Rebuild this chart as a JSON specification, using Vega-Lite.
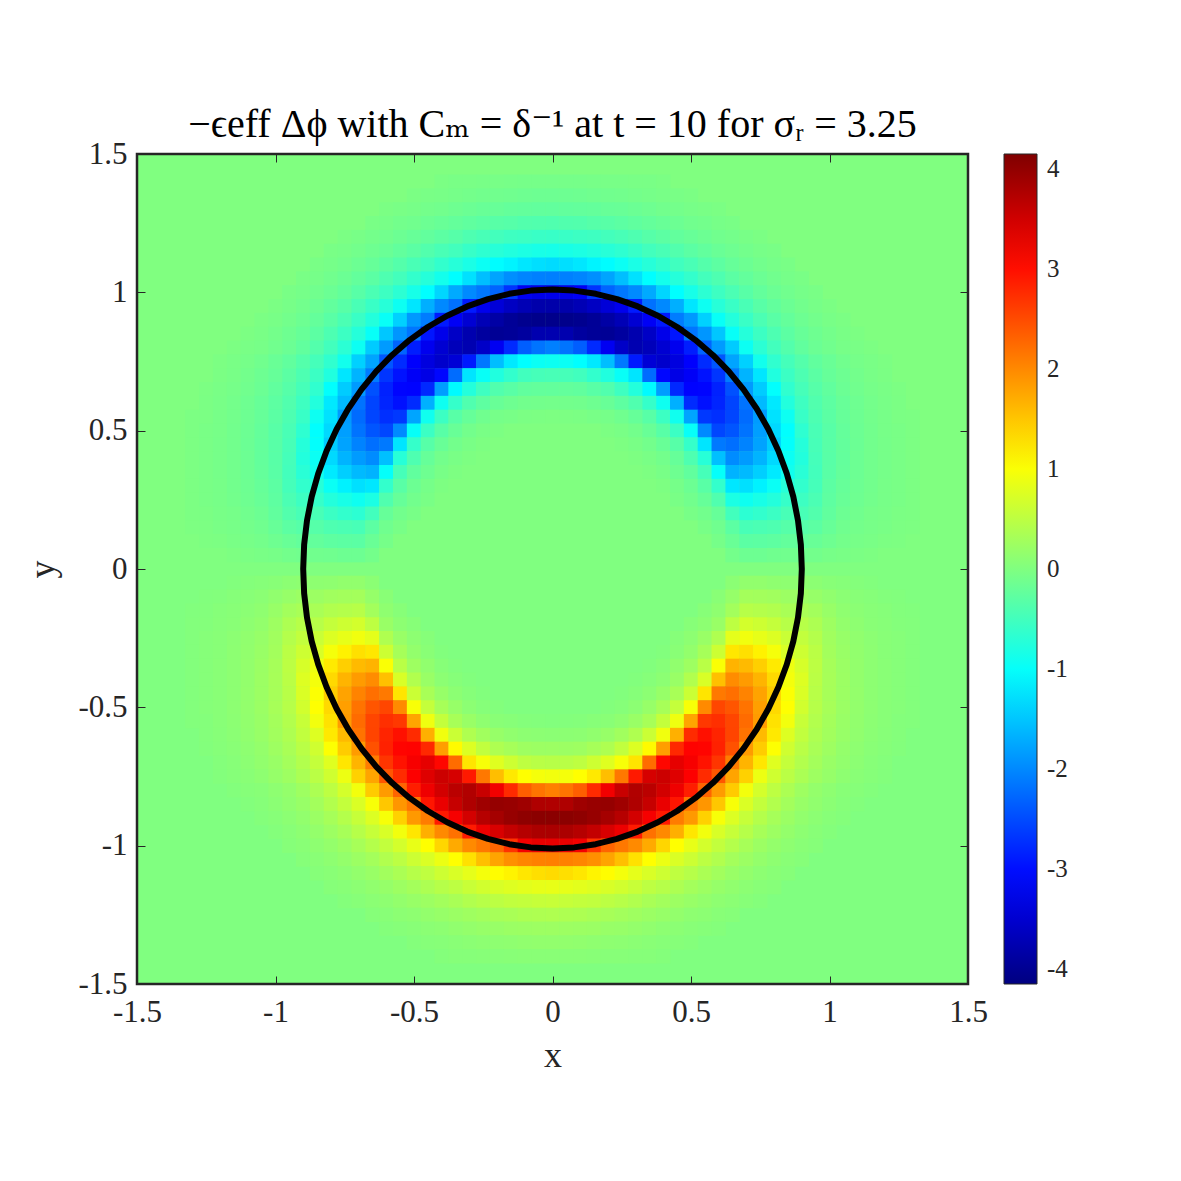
{
"$schema":"https://vega.github.io/schema/vega-lite/v6.json",
"width":831,"height":830,"autosize":"none",
"padding":{"left":137,"top":154,"right":213,"bottom":197},
"background":"white",
"title":{"text":"−ϵeff Δϕ with Cₘ = δ⁻¹ at t = 10 for σᵣ = 3.25","font":"Liberation Serif, DejaVu Serif, serif","fontSize":40,"fontWeight":"normal","color":"#000000","baseline":"alphabetic","offset":-39,"anchor":"middle"},
"datasets":{
"heat":[
{"y":1.4,"x":[-0.4,-0.35,-0.3,-0.25,-0.2,-0.15,-0.1,-0.05,0,0.05,0.1,0.15,0.2,0.25,0.3,0.35,0.4],"v":[-0.04,-0.05,-0.05,-0.06,-0.06,-0.07,-0.08,-0.08,-0.08,-0.08,-0.08,-0.07,-0.06,-0.06,-0.05,-0.05,-0.04]},
{"y":1.35,"x":[-0.5,-0.45,-0.4,-0.35,-0.3,-0.25,-0.2,-0.15,-0.1,-0.05,0,0.05,0.1,0.15,0.2,0.25,0.3,0.35,0.4,0.45,0.5],"v":[-0.04,-0.05,-0.06,-0.08,-0.09,-0.11,-0.12,-0.13,-0.14,-0.15,-0.15,-0.15,-0.14,-0.13,-0.12,-0.11,-0.09,-0.08,-0.06,-0.05,-0.04]},
{"y":1.3,"x":[-0.6,-0.55,-0.5,-0.45,-0.4,-0.35,-0.3,-0.25,-0.2,-0.15,-0.1,-0.05,0,0.05,0.1,0.15,0.2,0.25,0.3,0.35,0.4,0.45,0.5,0.55,0.6],"v":[-0.04,-0.05,-0.07,-0.09,-0.11,-0.14,-0.17,-0.19,-0.2,-0.22,-0.23,-0.24,-0.24,-0.24,-0.23,-0.22,-0.2,-0.19,-0.17,-0.14,-0.11,-0.09,-0.07,-0.05,-0.04]},
{"y":1.25,"x":[-0.65,-0.6,-0.55,-0.5,-0.45,-0.4,-0.35,-0.3,-0.25,-0.2,-0.15,-0.1,-0.05,0,0.05,0.1,0.15,0.2,0.25,0.3,0.35,0.4,0.45,0.5,0.55,0.6,0.65],"v":[-0.05,-0.07,-0.1,-0.12,-0.16,-0.19,-0.22,-0.26,-0.29,-0.32,-0.34,-0.37,-0.38,-0.39,-0.38,-0.37,-0.34,-0.32,-0.29,-0.26,-0.22,-0.19,-0.16,-0.12,-0.1,-0.07,-0.05]},
{"y":1.2,"x":[-0.75,-0.7,-0.65,-0.6,-0.55,-0.5,-0.45,-0.4,-0.35,-0.3,-0.25,-0.2,-0.15,-0.1,-0.05,0,0.05,0.1,0.15,0.2,0.25,0.3,0.35,0.4,0.45,0.5,0.55,0.6,0.65,0.7,0.75],"v":[-0.04,-0.06,-0.09,-0.12,-0.16,-0.2,-0.24,-0.29,-0.34,-0.4,-0.45,-0.49,-0.53,-0.55,-0.57,-0.58,-0.57,-0.55,-0.53,-0.49,-0.45,-0.4,-0.34,-0.29,-0.24,-0.2,-0.16,-0.12,-0.09,-0.06,-0.04]},
{"y":1.15,"x":[-0.8,-0.75,-0.7,-0.65,-0.6,-0.55,-0.5,-0.45,-0.4,-0.35,-0.3,-0.25,-0.2,-0.15,-0.1,-0.05,0,0.05,0.1,0.15,0.2,0.25,0.3,0.35,0.4,0.45,0.5,0.55,0.6,0.65,0.7,0.75,0.8],"v":[-0.05,-0.07,-0.1,-0.14,-0.18,-0.24,-0.3,-0.37,-0.44,-0.5,-0.59,-0.66,-0.72,-0.77,-0.81,-0.84,-0.85,-0.84,-0.81,-0.77,-0.72,-0.66,-0.59,-0.5,-0.44,-0.37,-0.3,-0.24,-0.18,-0.14,-0.1,-0.07,-0.05]},
{"y":1.1,"x":[-0.85,-0.8,-0.75,-0.7,-0.65,-0.6,-0.55,-0.5,-0.45,-0.4,-0.35,-0.3,-0.25,-0.2,-0.15,-0.1,-0.05,0,0.05,0.1,0.15,0.2,0.25,0.3,0.35,0.4,0.45,0.5,0.55,0.6,0.65,0.7,0.75,0.8,0.85],"v":[-0.05,-0.08,-0.11,-0.16,-0.21,-0.28,-0.35,-0.44,-0.52,-0.63,-0.73,-0.83,-0.95,-1.05,-1.13,-1.23,-1.3,-1.33,-1.3,-1.23,-1.13,-1.05,-0.95,-0.83,-0.73,-0.63,-0.52,-0.44,-0.35,-0.28,-0.21,-0.16,-0.11,-0.08,-0.05]},
{"y":1.05,"x":[-0.9,-0.85,-0.8,-0.75,-0.7,-0.65,-0.6,-0.55,-0.5,-0.45,-0.4,-0.35,-0.3,-0.25,-0.2,-0.15,-0.1,-0.05,0,0.05,0.1,0.15,0.2,0.25,0.3,0.35,0.4,0.45,0.5,0.55,0.6,0.65,0.7,0.75,0.8,0.85,0.9],"v":[-0.05,-0.08,-0.12,-0.17,-0.23,-0.3,-0.4,-0.49,-0.62,-0.74,-0.88,-1.04,-1.28,-1.56,-1.78,-1.95,-2.03,-2.07,-2.08,-2.07,-2.03,-1.95,-1.78,-1.56,-1.28,-1.04,-0.88,-0.74,-0.62,-0.49,-0.4,-0.3,-0.23,-0.17,-0.12,-0.08,-0.05]},
{"y":1.0,"x":[-0.95,-0.9,-0.85,-0.8,-0.75,-0.7,-0.65,-0.6,-0.55,-0.5,-0.45,-0.4,-0.35,-0.3,-0.25,-0.2,-0.15,-0.1,-0.05,0,0.05,0.1,0.15,0.2,0.25,0.3,0.35,0.4,0.45,0.5,0.55,0.6,0.65,0.7,0.75,0.8,0.85,0.9,0.95],"v":[-0.05,-0.08,-0.12,-0.17,-0.23,-0.32,-0.43,-0.54,-0.68,-0.85,-1.04,-1.37,-1.73,-1.99,-2.14,-2.3,-2.7,-3.2,-3.3,-3.3,-3.3,-3.2,-2.7,-2.3,-2.14,-1.99,-1.73,-1.37,-1.04,-0.85,-0.68,-0.54,-0.43,-0.32,-0.23,-0.17,-0.12,-0.08,-0.05]},
{"y":0.95,"x":[-1,-0.95,-0.9,-0.85,-0.8,-0.75,-0.7,-0.65,-0.6,-0.55,-0.5,-0.45,-0.4,-0.35,-0.3,-0.25,-0.2,-0.15,-0.1,-0.05,0,0.05,0.1,0.15,0.2,0.25,0.3,0.35,0.4,0.45,0.5,0.55,0.6,0.65,0.7,0.75,0.8,0.85,0.9,0.95,1],"v":[-0.04,-0.07,-0.11,-0.17,-0.24,-0.32,-0.44,-0.57,-0.72,-0.93,-1.24,-1.69,-2,-2.19,-2.9,-3.26,-3.43,-3.6,-3.72,-3.8,-3.81,-3.8,-3.72,-3.6,-3.43,-3.26,-2.9,-2.19,-2,-1.69,-1.24,-0.93,-0.72,-0.57,-0.44,-0.32,-0.24,-0.17,-0.11,-0.07,-0.04]},
{"y":0.9,"x":[-1.05,-1,-0.95,-0.9,-0.85,-0.8,-0.75,-0.7,-0.65,-0.6,-0.55,-0.5,-0.45,-0.4,-0.35,-0.3,-0.25,-0.2,-0.15,-0.1,-0.05,0,0.05,0.1,0.15,0.2,0.25,0.3,0.35,0.4,0.45,0.5,0.55,0.6,0.65,0.7,0.75,0.8,0.85,0.9,0.95,1,1.05],"v":[-0.04,-0.06,-0.1,-0.15,-0.22,-0.31,-0.43,-0.57,-0.75,-0.97,-1.41,-1.87,-2.1,-2.91,-3.19,-3.47,-3.71,-3.85,-3.96,-4.03,-4.06,-4.06,-4.06,-4.03,-3.96,-3.85,-3.71,-3.47,-3.19,-2.91,-2.1,-1.87,-1.41,-0.97,-0.75,-0.57,-0.43,-0.31,-0.22,-0.15,-0.1,-0.06,-0.04]},
{"y":0.85,"x":[-1.1,-1.05,-1,-0.95,-0.9,-0.85,-0.8,-0.75,-0.7,-0.65,-0.6,-0.55,-0.5,-0.45,-0.4,-0.35,-0.3,-0.25,-0.2,-0.15,-0.1,-0.05,0,0.05,0.1,0.15,0.2,0.25,0.3,0.35,0.4,0.45,0.5,0.55,0.6,0.65,0.7,0.75,0.8,0.85,0.9,0.95,1,1.05,1.1],"v":[-0.03,-0.05,-0.09,-0.14,-0.2,-0.29,-0.41,-0.55,-0.74,-0.98,-1.49,-1.89,-2.15,-2.94,-3.28,-3.58,-3.77,-3.9,-3.98,-3.95,-3.9,-3.77,-3.76,-3.77,-3.9,-3.95,-3.98,-3.9,-3.77,-3.58,-3.28,-2.94,-2.15,-1.89,-1.49,-0.98,-0.74,-0.55,-0.41,-0.29,-0.2,-0.14,-0.09,-0.05,-0.03]},
{"y":0.8,"x":[-1.15,-1.1,-1.05,-1,-0.95,-0.9,-0.85,-0.8,-0.75,-0.7,-0.65,-0.6,-0.55,-0.5,-0.45,-0.4,-0.35,-0.3,-0.25,-0.2,-0.15,-0.1,-0.05,0,0.05,0.1,0.15,0.2,0.25,0.3,0.35,0.4,0.45,0.5,0.55,0.6,0.65,0.7,0.75,0.8,0.85,0.9,0.95,1,1.05,1.1,1.15],"v":[-0.03,-0.05,-0.07,-0.12,-0.17,-0.25,-0.36,-0.5,-0.69,-0.94,-1.46,-1.85,-2.3,-2.88,-3.24,-3.48,-3.68,-3.75,-3.56,-3.22,-2.77,-2.35,-2.17,-2.07,-2.17,-2.35,-2.77,-3.22,-3.56,-3.75,-3.68,-3.48,-3.24,-2.88,-2.3,-1.85,-1.46,-0.94,-0.69,-0.5,-0.36,-0.25,-0.17,-0.12,-0.07,-0.05,-0.03]},
{"y":0.75,"x":[-1.2,-1.15,-1.1,-1.05,-1,-0.95,-0.9,-0.85,-0.8,-0.75,-0.7,-0.65,-0.6,-0.55,-0.5,-0.45,-0.4,-0.35,-0.3,-0.25,-0.2,-0.15,-0.1,-0.05,0,0.05,0.1,0.15,0.2,0.25,0.3,0.35,0.4,0.45,0.5,0.55,0.6,0.65,0.7,0.75,0.8,0.85,0.9,0.95,1,1.05,1.1,1.15,1.2],"v":[-0.03,-0.05,-0.08,-0.12,-0.18,-0.25,-0.35,-0.48,-0.65,-0.89,-1.41,-1.78,-2.41,-2.76,-3.13,-3.37,-3.53,-3.45,-2.91,-2.14,-1.57,-1.22,-1.04,-0.96,-0.93,-0.96,-1.04,-1.22,-1.57,-2.14,-2.91,-3.45,-3.53,-3.37,-3.13,-2.76,-2.41,-1.78,-1.41,-0.89,-0.65,-0.48,-0.35,-0.25,-0.18,-0.12,-0.08,-0.05,-0.03]},
{"y":0.7,"x":[-1.2,-1.15,-1.1,-1.05,-1,-0.95,-0.9,-0.85,-0.8,-0.75,-0.7,-0.65,-0.6,-0.55,-0.5,-0.45,-0.4,-0.35,-0.3,-0.25,-0.2,-0.15,-0.1,-0.05,0,0.05,0.1,0.15,0.2,0.25,0.3,0.35,0.4,0.45,0.5,0.55,0.6,0.65,0.7,0.75,0.8,0.85,0.9,0.95,1,1.05,1.1,1.15,1.2],"v":[-0.04,-0.06,-0.1,-0.15,-0.21,-0.3,-0.41,-0.56,-0.78,-1.24,-1.65,-2.1,-2.68,-2.97,-3.18,-3.32,-3.06,-2.23,-1.25,-0.97,-0.78,-0.63,-0.51,-0.47,-0.45,-0.47,-0.51,-0.63,-0.78,-0.97,-1.25,-2.23,-3.06,-3.32,-3.18,-2.97,-2.68,-2.1,-1.65,-1.24,-0.78,-0.56,-0.41,-0.3,-0.21,-0.15,-0.1,-0.06,-0.04]},
{"y":0.65,"x":[-1.25,-1.2,-1.15,-1.1,-1.05,-1,-0.95,-0.9,-0.85,-0.8,-0.75,-0.7,-0.65,-0.6,-0.55,-0.5,-0.45,-0.4,-0.35,-0.3,-0.25,-0.2,-0.15,-0.1,-0.05,0,0.05,0.1,0.15,0.2,0.25,0.3,0.35,0.4,0.45,0.5,0.55,0.6,0.65,0.7,0.75,0.8,0.85,0.9,0.95,1,1.05,1.1,1.15,1.2,1.25],"v":[-0.03,-0.05,-0.08,-0.12,-0.17,-0.25,-0.34,-0.47,-0.65,-1.02,-1.45,-1.85,-2.45,-2.84,-3.08,-3.1,-2.79,-1.83,-1.07,-0.75,-0.53,-0.38,-0.31,-0.25,-0.23,-0.23,-0.23,-0.25,-0.31,-0.38,-0.53,-0.75,-1.07,-1.83,-2.79,-3.1,-3.08,-2.84,-2.45,-1.85,-1.45,-1.02,-0.65,-0.47,-0.34,-0.25,-0.17,-0.12,-0.08,-0.05,-0.03]},
{"y":0.6,"x":[-1.25,-1.2,-1.15,-1.1,-1.05,-1,-0.95,-0.9,-0.85,-0.8,-0.75,-0.7,-0.65,-0.6,-0.55,-0.5,-0.45,-0.4,-0.35,-0.3,-0.25,-0.2,-0.15,-0.1,-0.05,0,0.05,0.1,0.15,0.2,0.25,0.3,0.35,0.4,0.45,0.5,0.55,0.6,0.65,0.7,0.75,0.8,0.85,0.9,0.95,1,1.05,1.1,1.15,1.2,1.25],"v":[-0.04,-0.06,-0.09,-0.14,-0.2,-0.28,-0.38,-0.53,-0.76,-1.22,-1.6,-2.18,-2.56,-2.82,-2.98,-2.76,-1.68,-0.92,-0.61,-0.39,-0.27,-0.19,-0.14,-0.11,-0.1,-0.09,-0.1,-0.11,-0.14,-0.19,-0.27,-0.39,-0.61,-0.92,-1.68,-2.76,-2.98,-2.82,-2.56,-2.18,-1.6,-1.22,-0.76,-0.53,-0.38,-0.28,-0.2,-0.14,-0.09,-0.06,-0.04]},
{"y":0.55,"x":[-1.3,-1.25,-1.2,-1.15,-1.1,-1.05,-1,-0.95,-0.9,-0.85,-0.8,-0.75,-0.7,-0.65,-0.6,-0.55,-0.5,-0.45,-0.4,-0.35,-0.3,-0.25,-0.2,-0.15,-0.1,-0.05,0,0.05,0.1,0.15,0.2,0.25,0.3,0.35,0.4,0.45,0.5,0.55,0.6,0.65,0.7,0.75,0.8,0.85,0.9,0.95,1,1.05,1.1,1.15,1.2,1.25,1.3],"v":[-0.03,-0.04,-0.07,-0.1,-0.15,-0.21,-0.3,-0.41,-0.58,-0.93,-1.27,-1.85,-2.24,-2.55,-2.73,-2.66,-1.77,-0.91,-0.55,-0.32,-0.21,-0.13,-0.08,-0.06,-0.04,-0.03,-0.02,-0.03,-0.04,-0.06,-0.08,-0.13,-0.21,-0.32,-0.55,-0.91,-1.77,-2.66,-2.73,-2.55,-2.24,-1.85,-1.27,-0.93,-0.58,-0.41,-0.3,-0.21,-0.15,-0.1,-0.07,-0.04,-0.03]},
{"y":0.5,"x":[-1.3,-1.25,-1.2,-1.15,-1.1,-1.05,-1,-0.95,-0.9,-0.85,-0.8,-0.75,-0.7,-0.65,-0.6,-0.55,-0.5,-0.45,-0.4,-0.35,-0.3,-0.25,-0.2,-0.15,-0.1,-0.05,0,0.05,0.1,0.15,0.2,0.25,0.3,0.35,0.4,0.45,0.5,0.55,0.6,0.65,0.7,0.75,0.8,0.85,0.9,0.95,1,1.05,1.1,1.15,1.2,1.25,1.3],"v":[-0.03,-0.05,-0.07,-0.11,-0.16,-0.22,-0.32,-0.44,-0.66,-1.03,-1.35,-1.82,-2.18,-2.42,-2.54,-1.99,-0.98,-0.56,-0.32,-0.19,-0.1,-0.05,-0.03,0,0,0,0,0,0,0,-0.03,-0.05,-0.1,-0.19,-0.32,-0.56,-0.98,-1.99,-2.54,-2.42,-2.18,-1.82,-1.35,-1.03,-0.66,-0.44,-0.32,-0.22,-0.16,-0.11,-0.07,-0.05,-0.03]},
{"y":0.45,"x":[-1.3,-1.25,-1.2,-1.15,-1.1,-1.05,-1,-0.95,-0.9,-0.85,-0.8,-0.75,-0.7,-0.65,-0.6,-0.55,-0.5,-0.45,-0.4,-0.35,-0.3,-0.25,-0.2,-0.15,-0.1,-0.05,0,0.05,0.1,0.15,0.2,0.25,0.3,0.35,0.4,0.45,0.5,0.55,0.6,0.65,0.7,0.75,0.8,0.85,0.9,0.95,1,1.05,1.1,1.15,1.2,1.25,1.3],"v":[-0.03,-0.05,-0.08,-0.11,-0.17,-0.23,-0.32,-0.46,-0.74,-1.01,-1.45,-1.79,-2.05,-2.21,-2.13,-1.25,-0.61,-0.33,-0.19,-0.1,-0.05,-0.02,0,0,0,0,0,0,0,0,0,-0.02,-0.05,-0.1,-0.19,-0.33,-0.61,-1.25,-2.13,-2.21,-2.05,-1.79,-1.45,-1.01,-0.74,-0.46,-0.32,-0.23,-0.17,-0.11,-0.08,-0.05,-0.03]},
{"y":0.4,"x":[-1.3,-1.25,-1.2,-1.15,-1.1,-1.05,-1,-0.95,-0.9,-0.85,-0.8,-0.75,-0.7,-0.65,-0.6,-0.55,-0.5,-0.45,-0.4,-0.35,-0.3,-0.25,-0.2,-0.15,-0.1,-0.05,0,0.05,0.1,0.15,0.2,0.25,0.3,0.35,0.4,0.45,0.5,0.55,0.6,0.65,0.7,0.75,0.8,0.85,0.9,0.95,1,1.05,1.1,1.15,1.2,1.25,1.3],"v":[-0.03,-0.05,-0.08,-0.11,-0.16,-0.23,-0.32,-0.48,-0.76,-0.95,-1.35,-1.65,-1.85,-1.97,-1.55,-0.72,-0.4,-0.21,-0.1,-0.05,-0.02,0,0,0,0,0,0,0,0,0,0,0,-0.02,-0.05,-0.1,-0.21,-0.4,-0.72,-1.55,-1.97,-1.85,-1.65,-1.35,-0.95,-0.76,-0.48,-0.32,-0.23,-0.16,-0.11,-0.08,-0.05,-0.03]},
{"y":0.35,"x":[-1.3,-1.25,-1.2,-1.15,-1.1,-1.05,-1,-0.95,-0.9,-0.85,-0.8,-0.75,-0.7,-0.65,-0.6,-0.55,-0.5,-0.45,-0.4,-0.35,-0.3,-0.25,-0.2,-0.15,-0.1,-0.05,0,0.05,0.1,0.15,0.2,0.25,0.3,0.35,0.4,0.45,0.5,0.55,0.6,0.65,0.7,0.75,0.8,0.85,0.9,0.95,1,1.05,1.1,1.15,1.2,1.25,1.3],"v":[-0.03,-0.05,-0.08,-0.11,-0.16,-0.22,-0.31,-0.49,-0.7,-0.9,-1.21,-1.43,-1.6,-1.66,-1,-0.47,-0.25,-0.14,-0.06,-0.02,0,0,0,0,0,0,0,0,0,0,0,0,0,-0.02,-0.06,-0.14,-0.25,-0.47,-1,-1.66,-1.6,-1.43,-1.21,-0.9,-0.7,-0.49,-0.31,-0.22,-0.16,-0.11,-0.08,-0.05,-0.03]},
{"y":0.3,"x":[-1.3,-1.25,-1.2,-1.15,-1.1,-1.05,-1,-0.95,-0.9,-0.85,-0.8,-0.75,-0.7,-0.65,-0.6,-0.55,-0.5,-0.45,-0.4,-0.35,-0.3,-0.25,-0.2,-0.15,-0.1,-0.05,0,0.05,0.1,0.15,0.2,0.25,0.3,0.35,0.4,0.45,0.5,0.55,0.6,0.65,0.7,0.75,0.8,0.85,0.9,0.95,1,1.05,1.1,1.15,1.2,1.25,1.3],"v":[-0.03,-0.05,-0.07,-0.11,-0.15,-0.21,-0.29,-0.48,-0.63,-0.72,-0.96,-1.14,-1.29,-1.23,-0.62,-0.31,-0.16,-0.08,-0.02,0,0,0,0,0,0,0,0,0,0,0,0,0,0,0,-0.02,-0.08,-0.16,-0.31,-0.62,-1.23,-1.29,-1.14,-0.96,-0.72,-0.63,-0.48,-0.29,-0.21,-0.15,-0.11,-0.07,-0.05,-0.03]},
{"y":0.25,"x":[-1.3,-1.25,-1.2,-1.15,-1.1,-1.05,-1,-0.95,-0.9,-0.85,-0.8,-0.75,-0.7,-0.65,-0.6,-0.55,-0.5,-0.45,-0.4,-0.35,-0.3,-0.25,-0.2,-0.15,-0.1,-0.05,0,0.05,0.1,0.15,0.2,0.25,0.3,0.35,0.4,0.45,0.5,0.55,0.6,0.65,0.7,0.75,0.8,0.85,0.9,0.95,1,1.05,1.1,1.15,1.2,1.25,1.3],"v":[-0.03,-0.05,-0.07,-0.1,-0.14,-0.19,-0.27,-0.43,-0.54,-0.6,-0.75,-0.84,-0.92,-0.82,-0.39,-0.21,-0.11,-0.05,0,0,0,0,0,0,0,0,0,0,0,0,0,0,0,0,0,-0.05,-0.11,-0.21,-0.39,-0.82,-0.92,-0.84,-0.75,-0.6,-0.54,-0.43,-0.27,-0.19,-0.14,-0.1,-0.07,-0.05,-0.03]},
{"y":0.2,"x":[-1.3,-1.25,-1.2,-1.15,-1.1,-1.05,-1,-0.95,-0.9,-0.85,-0.8,-0.75,-0.7,-0.65,-0.6,-0.55,-0.5,-0.45,-0.4,-0.35,-0.3,-0.25,-0.2,-0.15,-0.1,-0.05,0,0.05,0.1,0.15,0.2,0.25,0.3,0.35,0.4,0.45,0.5,0.55,0.6,0.65,0.7,0.75,0.8,0.85,0.9,0.95,1,1.05,1.1,1.15,1.2,1.25,1.3],"v":[-0.03,-0.04,-0.06,-0.08,-0.12,-0.16,-0.25,-0.37,-0.45,-0.45,-0.56,-0.63,-0.68,-0.5,-0.21,-0.11,-0.06,0,0,0,0,0,0,0,0,0,0,0,0,0,0,0,0,0,0,0,-0.06,-0.11,-0.21,-0.5,-0.68,-0.63,-0.56,-0.45,-0.45,-0.37,-0.25,-0.16,-0.12,-0.08,-0.06,-0.04,-0.03]},
{"y":0.15,"x":[-1.3,-1.25,-1.2,-1.15,-1.1,-1.05,-1,-0.95,-0.9,-0.85,-0.8,-0.75,-0.7,-0.65,-0.6,-0.55,-0.5,-0.45,-0.4,-0.35,-0.3,-0.25,-0.2,-0.15,-0.1,-0.05,0,0.05,0.1,0.15,0.2,0.25,0.3,0.35,0.4,0.45,0.5,0.55,0.6,0.65,0.7,0.75,0.8,0.85,0.9,0.95,1,1.05,1.1,1.15,1.2,1.25,1.3],"v":[-0.02,-0.03,-0.05,-0.07,-0.09,-0.13,-0.2,-0.29,-0.34,-0.34,-0.4,-0.43,-0.45,-0.29,-0.13,-0.06,0,0,0,0,0,0,0,0,0,0,0,0,0,0,0,0,0,0,0,0,0,-0.06,-0.13,-0.29,-0.45,-0.43,-0.4,-0.34,-0.34,-0.29,-0.2,-0.13,-0.09,-0.07,-0.05,-0.03,-0.02]},
{"y":0.1,"x":[-1.3,-1.25,-1.2,-1.15,-1.1,-1.05,-1,-0.95,-0.9,-0.85,-0.8,-0.75,-0.7,-0.65,-0.6,-0.55,-0.5,-0.45,-0.4,-0.35,-0.3,-0.25,-0.2,-0.15,-0.1,-0.05,0,0.05,0.1,0.15,0.2,0.25,0.3,0.35,0.4,0.45,0.5,0.55,0.6,0.65,0.7,0.75,0.8,0.85,0.9,0.95,1,1.05,1.1,1.15,1.2,1.25,1.3],"v":[0,-0.02,-0.03,-0.05,-0.07,-0.09,-0.14,-0.19,-0.23,-0.23,-0.27,-0.29,-0.3,-0.18,-0.08,0,0,0,0,0,0,0,0,0,0,0,0,0,0,0,0,0,0,0,0,0,0,0,-0.08,-0.18,-0.3,-0.29,-0.27,-0.23,-0.23,-0.19,-0.14,-0.09,-0.07,-0.05,-0.03,-0.02,0]},
{"y":0.05,"x":[-1.3,-1.25,-1.2,-1.15,-1.1,-1.05,-1,-0.95,-0.9,-0.85,-0.8,-0.75,-0.7,-0.65,-0.6,-0.55,-0.5,-0.45,-0.4,-0.35,-0.3,-0.25,-0.2,-0.15,-0.1,-0.05,0,0.05,0.1,0.15,0.2,0.25,0.3,0.35,0.4,0.45,0.5,0.55,0.6,0.65,0.7,0.75,0.8,0.85,0.9,0.95,1,1.05,1.1,1.15,1.2,1.25,1.3],"v":[0,0,0,-0.02,-0.04,-0.05,-0.07,-0.1,-0.12,-0.12,-0.13,-0.15,-0.15,-0.09,0,0,0,0,0,0,0,0,0,0,0,0,0,0,0,0,0,0,0,0,0,0,0,0,0,-0.09,-0.15,-0.15,-0.13,-0.12,-0.12,-0.1,-0.07,-0.05,-0.04,-0.02,0,0,0]},
{"y":-0.05,"x":[-1.3,-1.25,-1.2,-1.15,-1.1,-1.05,-1,-0.95,-0.9,-0.85,-0.8,-0.75,-0.7,-0.65,-0.6,-0.55,-0.5,-0.45,-0.4,-0.35,-0.3,-0.25,-0.2,-0.15,-0.1,-0.05,0,0.05,0.1,0.15,0.2,0.25,0.3,0.35,0.4,0.45,0.5,0.55,0.6,0.65,0.7,0.75,0.8,0.85,0.9,0.95,1,1.05,1.1,1.15,1.2,1.25,1.3],"v":[0,0,0,0.02,0.04,0.05,0.07,0.1,0.12,0.12,0.13,0.15,0.15,0.09,0,0,0,0,0,0,0,0,0,0,0,0,0,0,0,0,0,0,0,0,0,0,0,0,0,0.09,0.15,0.15,0.13,0.12,0.12,0.1,0.07,0.05,0.04,0.02,0,0,0]},
{"y":-0.1,"x":[-1.3,-1.25,-1.2,-1.15,-1.1,-1.05,-1,-0.95,-0.9,-0.85,-0.8,-0.75,-0.7,-0.65,-0.6,-0.55,-0.5,-0.45,-0.4,-0.35,-0.3,-0.25,-0.2,-0.15,-0.1,-0.05,0,0.05,0.1,0.15,0.2,0.25,0.3,0.35,0.4,0.45,0.5,0.55,0.6,0.65,0.7,0.75,0.8,0.85,0.9,0.95,1,1.05,1.1,1.15,1.2,1.25,1.3],"v":[0,0.02,0.03,0.05,0.07,0.09,0.14,0.19,0.23,0.23,0.27,0.29,0.3,0.18,0.08,0,0,0,0,0,0,0,0,0,0,0,0,0,0,0,0,0,0,0,0,0,0,0,0.08,0.18,0.3,0.29,0.27,0.23,0.23,0.19,0.14,0.09,0.07,0.05,0.03,0.02,0]},
{"y":-0.15,"x":[-1.3,-1.25,-1.2,-1.15,-1.1,-1.05,-1,-0.95,-0.9,-0.85,-0.8,-0.75,-0.7,-0.65,-0.6,-0.55,-0.5,-0.45,-0.4,-0.35,-0.3,-0.25,-0.2,-0.15,-0.1,-0.05,0,0.05,0.1,0.15,0.2,0.25,0.3,0.35,0.4,0.45,0.5,0.55,0.6,0.65,0.7,0.75,0.8,0.85,0.9,0.95,1,1.05,1.1,1.15,1.2,1.25,1.3],"v":[0.02,0.03,0.05,0.07,0.09,0.13,0.2,0.29,0.34,0.34,0.4,0.43,0.45,0.29,0.13,0.06,0,0,0,0,0,0,0,0,0,0,0,0,0,0,0,0,0,0,0,0,0,0.06,0.13,0.29,0.45,0.43,0.4,0.34,0.34,0.29,0.2,0.13,0.09,0.07,0.05,0.03,0.02]},
{"y":-0.2,"x":[-1.3,-1.25,-1.2,-1.15,-1.1,-1.05,-1,-0.95,-0.9,-0.85,-0.8,-0.75,-0.7,-0.65,-0.6,-0.55,-0.5,-0.45,-0.4,-0.35,-0.3,-0.25,-0.2,-0.15,-0.1,-0.05,0,0.05,0.1,0.15,0.2,0.25,0.3,0.35,0.4,0.45,0.5,0.55,0.6,0.65,0.7,0.75,0.8,0.85,0.9,0.95,1,1.05,1.1,1.15,1.2,1.25,1.3],"v":[0.03,0.04,0.06,0.08,0.12,0.16,0.25,0.37,0.45,0.45,0.56,0.63,0.68,0.5,0.21,0.11,0.06,0,0,0,0,0,0,0,0,0,0,0,0,0,0,0,0,0,0,0,0.06,0.11,0.21,0.5,0.68,0.63,0.56,0.45,0.45,0.37,0.25,0.16,0.12,0.08,0.06,0.04,0.03]},
{"y":-0.25,"x":[-1.3,-1.25,-1.2,-1.15,-1.1,-1.05,-1,-0.95,-0.9,-0.85,-0.8,-0.75,-0.7,-0.65,-0.6,-0.55,-0.5,-0.45,-0.4,-0.35,-0.3,-0.25,-0.2,-0.15,-0.1,-0.05,0,0.05,0.1,0.15,0.2,0.25,0.3,0.35,0.4,0.45,0.5,0.55,0.6,0.65,0.7,0.75,0.8,0.85,0.9,0.95,1,1.05,1.1,1.15,1.2,1.25,1.3],"v":[0.03,0.05,0.07,0.1,0.14,0.19,0.27,0.43,0.54,0.6,0.75,0.84,0.92,0.82,0.39,0.21,0.11,0.05,0,0,0,0,0,0,0,0,0,0,0,0,0,0,0,0,0,0.05,0.11,0.21,0.39,0.82,0.92,0.84,0.75,0.6,0.54,0.43,0.27,0.19,0.14,0.1,0.07,0.05,0.03]},
{"y":-0.3,"x":[-1.3,-1.25,-1.2,-1.15,-1.1,-1.05,-1,-0.95,-0.9,-0.85,-0.8,-0.75,-0.7,-0.65,-0.6,-0.55,-0.5,-0.45,-0.4,-0.35,-0.3,-0.25,-0.2,-0.15,-0.1,-0.05,0,0.05,0.1,0.15,0.2,0.25,0.3,0.35,0.4,0.45,0.5,0.55,0.6,0.65,0.7,0.75,0.8,0.85,0.9,0.95,1,1.05,1.1,1.15,1.2,1.25,1.3],"v":[0.03,0.05,0.07,0.11,0.15,0.21,0.29,0.48,0.63,0.72,0.96,1.14,1.29,1.23,0.62,0.31,0.16,0.08,0.02,0,0,0,0,0,0,0,0,0,0,0,0,0,0,0,0.02,0.08,0.16,0.31,0.62,1.23,1.29,1.14,0.96,0.72,0.63,0.48,0.29,0.21,0.15,0.11,0.07,0.05,0.03]},
{"y":-0.35,"x":[-1.3,-1.25,-1.2,-1.15,-1.1,-1.05,-1,-0.95,-0.9,-0.85,-0.8,-0.75,-0.7,-0.65,-0.6,-0.55,-0.5,-0.45,-0.4,-0.35,-0.3,-0.25,-0.2,-0.15,-0.1,-0.05,0,0.05,0.1,0.15,0.2,0.25,0.3,0.35,0.4,0.45,0.5,0.55,0.6,0.65,0.7,0.75,0.8,0.85,0.9,0.95,1,1.05,1.1,1.15,1.2,1.25,1.3],"v":[0.03,0.05,0.08,0.11,0.16,0.22,0.31,0.49,0.7,0.9,1.21,1.43,1.6,1.66,1,0.47,0.25,0.14,0.06,0.02,0,0,0,0,0,0,0,0,0,0,0,0,0,0.02,0.06,0.14,0.25,0.47,1,1.66,1.6,1.43,1.21,0.9,0.7,0.49,0.31,0.22,0.16,0.11,0.08,0.05,0.03]},
{"y":-0.4,"x":[-1.3,-1.25,-1.2,-1.15,-1.1,-1.05,-1,-0.95,-0.9,-0.85,-0.8,-0.75,-0.7,-0.65,-0.6,-0.55,-0.5,-0.45,-0.4,-0.35,-0.3,-0.25,-0.2,-0.15,-0.1,-0.05,0,0.05,0.1,0.15,0.2,0.25,0.3,0.35,0.4,0.45,0.5,0.55,0.6,0.65,0.7,0.75,0.8,0.85,0.9,0.95,1,1.05,1.1,1.15,1.2,1.25,1.3],"v":[0.03,0.05,0.08,0.11,0.16,0.23,0.32,0.48,0.76,0.95,1.35,1.65,1.85,1.97,1.55,0.72,0.4,0.21,0.1,0.05,0.02,0,0,0,0,0,0,0,0,0,0,0,0.02,0.05,0.1,0.21,0.4,0.72,1.55,1.97,1.85,1.65,1.35,0.95,0.76,0.48,0.32,0.23,0.16,0.11,0.08,0.05,0.03]},
{"y":-0.45,"x":[-1.3,-1.25,-1.2,-1.15,-1.1,-1.05,-1,-0.95,-0.9,-0.85,-0.8,-0.75,-0.7,-0.65,-0.6,-0.55,-0.5,-0.45,-0.4,-0.35,-0.3,-0.25,-0.2,-0.15,-0.1,-0.05,0,0.05,0.1,0.15,0.2,0.25,0.3,0.35,0.4,0.45,0.5,0.55,0.6,0.65,0.7,0.75,0.8,0.85,0.9,0.95,1,1.05,1.1,1.15,1.2,1.25,1.3],"v":[0.03,0.05,0.08,0.11,0.17,0.23,0.32,0.46,0.74,1.01,1.45,1.79,2.05,2.21,2.13,1.25,0.61,0.33,0.19,0.1,0.05,0.02,0,0,0,0,0,0,0,0,0,0.02,0.05,0.1,0.19,0.33,0.61,1.25,2.13,2.21,2.05,1.79,1.45,1.01,0.74,0.46,0.32,0.23,0.17,0.11,0.08,0.05,0.03]},
{"y":-0.5,"x":[-1.3,-1.25,-1.2,-1.15,-1.1,-1.05,-1,-0.95,-0.9,-0.85,-0.8,-0.75,-0.7,-0.65,-0.6,-0.55,-0.5,-0.45,-0.4,-0.35,-0.3,-0.25,-0.2,-0.15,-0.1,-0.05,0,0.05,0.1,0.15,0.2,0.25,0.3,0.35,0.4,0.45,0.5,0.55,0.6,0.65,0.7,0.75,0.8,0.85,0.9,0.95,1,1.05,1.1,1.15,1.2,1.25,1.3],"v":[0.03,0.05,0.07,0.11,0.16,0.22,0.32,0.44,0.66,1.03,1.35,1.82,2.18,2.42,2.54,1.99,0.98,0.56,0.32,0.19,0.1,0.05,0.03,0,0,0,0,0,0,0,0.03,0.05,0.1,0.19,0.32,0.56,0.98,1.99,2.54,2.42,2.18,1.82,1.35,1.03,0.66,0.44,0.32,0.22,0.16,0.11,0.07,0.05,0.03]},
{"y":-0.55,"x":[-1.3,-1.25,-1.2,-1.15,-1.1,-1.05,-1,-0.95,-0.9,-0.85,-0.8,-0.75,-0.7,-0.65,-0.6,-0.55,-0.5,-0.45,-0.4,-0.35,-0.3,-0.25,-0.2,-0.15,-0.1,-0.05,0,0.05,0.1,0.15,0.2,0.25,0.3,0.35,0.4,0.45,0.5,0.55,0.6,0.65,0.7,0.75,0.8,0.85,0.9,0.95,1,1.05,1.1,1.15,1.2,1.25,1.3],"v":[0.03,0.04,0.07,0.1,0.15,0.21,0.3,0.41,0.58,0.93,1.27,1.85,2.24,2.55,2.73,2.66,1.77,0.91,0.55,0.32,0.21,0.13,0.08,0.06,0.04,0.03,0.02,0.03,0.04,0.06,0.08,0.13,0.21,0.32,0.55,0.91,1.77,2.66,2.73,2.55,2.24,1.85,1.27,0.93,0.58,0.41,0.3,0.21,0.15,0.1,0.07,0.04,0.03]},
{"y":-0.6,"x":[-1.25,-1.2,-1.15,-1.1,-1.05,-1,-0.95,-0.9,-0.85,-0.8,-0.75,-0.7,-0.65,-0.6,-0.55,-0.5,-0.45,-0.4,-0.35,-0.3,-0.25,-0.2,-0.15,-0.1,-0.05,0,0.05,0.1,0.15,0.2,0.25,0.3,0.35,0.4,0.45,0.5,0.55,0.6,0.65,0.7,0.75,0.8,0.85,0.9,0.95,1,1.05,1.1,1.15,1.2,1.25],"v":[0.04,0.06,0.09,0.14,0.2,0.28,0.38,0.53,0.76,1.22,1.6,2.18,2.56,2.82,2.98,2.76,1.68,0.92,0.61,0.39,0.27,0.19,0.14,0.11,0.1,0.09,0.1,0.11,0.14,0.19,0.27,0.39,0.61,0.92,1.68,2.76,2.98,2.82,2.56,2.18,1.6,1.22,0.76,0.53,0.38,0.28,0.2,0.14,0.09,0.06,0.04]},
{"y":-0.65,"x":[-1.25,-1.2,-1.15,-1.1,-1.05,-1,-0.95,-0.9,-0.85,-0.8,-0.75,-0.7,-0.65,-0.6,-0.55,-0.5,-0.45,-0.4,-0.35,-0.3,-0.25,-0.2,-0.15,-0.1,-0.05,0,0.05,0.1,0.15,0.2,0.25,0.3,0.35,0.4,0.45,0.5,0.55,0.6,0.65,0.7,0.75,0.8,0.85,0.9,0.95,1,1.05,1.1,1.15,1.2,1.25],"v":[0.03,0.05,0.08,0.12,0.17,0.25,0.34,0.47,0.65,1.02,1.45,1.85,2.45,2.84,3.08,3.1,2.79,1.83,1.07,0.75,0.53,0.38,0.31,0.25,0.23,0.23,0.23,0.25,0.31,0.38,0.53,0.75,1.07,1.83,2.79,3.1,3.08,2.84,2.45,1.85,1.45,1.02,0.65,0.47,0.34,0.25,0.17,0.12,0.08,0.05,0.03]},
{"y":-0.7,"x":[-1.2,-1.15,-1.1,-1.05,-1,-0.95,-0.9,-0.85,-0.8,-0.75,-0.7,-0.65,-0.6,-0.55,-0.5,-0.45,-0.4,-0.35,-0.3,-0.25,-0.2,-0.15,-0.1,-0.05,0,0.05,0.1,0.15,0.2,0.25,0.3,0.35,0.4,0.45,0.5,0.55,0.6,0.65,0.7,0.75,0.8,0.85,0.9,0.95,1,1.05,1.1,1.15,1.2],"v":[0.04,0.06,0.1,0.15,0.21,0.3,0.41,0.56,0.78,1.24,1.65,2.1,2.68,2.97,3.18,3.32,3.06,2.23,1.25,0.97,0.78,0.63,0.51,0.47,0.45,0.47,0.51,0.63,0.78,0.97,1.25,2.23,3.06,3.32,3.18,2.97,2.68,2.1,1.65,1.24,0.78,0.56,0.41,0.3,0.21,0.15,0.1,0.06,0.04]},
{"y":-0.75,"x":[-1.2,-1.15,-1.1,-1.05,-1,-0.95,-0.9,-0.85,-0.8,-0.75,-0.7,-0.65,-0.6,-0.55,-0.5,-0.45,-0.4,-0.35,-0.3,-0.25,-0.2,-0.15,-0.1,-0.05,0,0.05,0.1,0.15,0.2,0.25,0.3,0.35,0.4,0.45,0.5,0.55,0.6,0.65,0.7,0.75,0.8,0.85,0.9,0.95,1,1.05,1.1,1.15,1.2],"v":[0.03,0.05,0.08,0.12,0.18,0.25,0.35,0.48,0.65,0.89,1.41,1.78,2.41,2.76,3.13,3.37,3.53,3.45,2.91,2.14,1.57,1.22,1.04,0.96,0.93,0.96,1.04,1.22,1.57,2.14,2.91,3.45,3.53,3.37,3.13,2.76,2.41,1.78,1.41,0.89,0.65,0.48,0.35,0.25,0.18,0.12,0.08,0.05,0.03]},
{"y":-0.8,"x":[-1.15,-1.1,-1.05,-1,-0.95,-0.9,-0.85,-0.8,-0.75,-0.7,-0.65,-0.6,-0.55,-0.5,-0.45,-0.4,-0.35,-0.3,-0.25,-0.2,-0.15,-0.1,-0.05,0,0.05,0.1,0.15,0.2,0.25,0.3,0.35,0.4,0.45,0.5,0.55,0.6,0.65,0.7,0.75,0.8,0.85,0.9,0.95,1,1.05,1.1,1.15],"v":[0.03,0.05,0.07,0.12,0.17,0.25,0.36,0.5,0.69,0.94,1.46,1.85,2.3,2.88,3.24,3.48,3.68,3.75,3.56,3.22,2.77,2.35,2.17,2.07,2.17,2.35,2.77,3.22,3.56,3.75,3.68,3.48,3.24,2.88,2.3,1.85,1.46,0.94,0.69,0.5,0.36,0.25,0.17,0.12,0.07,0.05,0.03]},
{"y":-0.85,"x":[-1.1,-1.05,-1,-0.95,-0.9,-0.85,-0.8,-0.75,-0.7,-0.65,-0.6,-0.55,-0.5,-0.45,-0.4,-0.35,-0.3,-0.25,-0.2,-0.15,-0.1,-0.05,0,0.05,0.1,0.15,0.2,0.25,0.3,0.35,0.4,0.45,0.5,0.55,0.6,0.65,0.7,0.75,0.8,0.85,0.9,0.95,1,1.05,1.1],"v":[0.03,0.05,0.09,0.14,0.2,0.29,0.41,0.55,0.74,0.98,1.49,1.89,2.15,2.94,3.28,3.58,3.77,3.9,3.98,3.95,3.9,3.77,3.76,3.77,3.9,3.95,3.98,3.9,3.77,3.58,3.28,2.94,2.15,1.89,1.49,0.98,0.74,0.55,0.41,0.29,0.2,0.14,0.09,0.05,0.03]},
{"y":-0.9,"x":[-1.05,-1,-0.95,-0.9,-0.85,-0.8,-0.75,-0.7,-0.65,-0.6,-0.55,-0.5,-0.45,-0.4,-0.35,-0.3,-0.25,-0.2,-0.15,-0.1,-0.05,0,0.05,0.1,0.15,0.2,0.25,0.3,0.35,0.4,0.45,0.5,0.55,0.6,0.65,0.7,0.75,0.8,0.85,0.9,0.95,1,1.05],"v":[0.04,0.06,0.1,0.15,0.22,0.31,0.43,0.57,0.75,0.97,1.41,1.87,2.1,2.91,3.19,3.47,3.71,3.85,3.96,4.03,4.06,4.06,4.06,4.03,3.96,3.85,3.71,3.47,3.19,2.91,2.1,1.87,1.41,0.97,0.75,0.57,0.43,0.31,0.22,0.15,0.1,0.06,0.04]},
{"y":-0.95,"x":[-1,-0.95,-0.9,-0.85,-0.8,-0.75,-0.7,-0.65,-0.6,-0.55,-0.5,-0.45,-0.4,-0.35,-0.3,-0.25,-0.2,-0.15,-0.1,-0.05,0,0.05,0.1,0.15,0.2,0.25,0.3,0.35,0.4,0.45,0.5,0.55,0.6,0.65,0.7,0.75,0.8,0.85,0.9,0.95,1],"v":[0.04,0.07,0.11,0.17,0.24,0.32,0.44,0.57,0.72,0.93,1.24,1.69,2,2.19,2.9,3.26,3.43,3.6,3.72,3.8,3.81,3.8,3.72,3.6,3.43,3.26,2.9,2.19,2,1.69,1.24,0.93,0.72,0.57,0.44,0.32,0.24,0.17,0.11,0.07,0.04]},
{"y":-1.0,"x":[-0.95,-0.9,-0.85,-0.8,-0.75,-0.7,-0.65,-0.6,-0.55,-0.5,-0.45,-0.4,-0.35,-0.3,-0.25,-0.2,-0.15,-0.1,-0.05,0,0.05,0.1,0.15,0.2,0.25,0.3,0.35,0.4,0.45,0.5,0.55,0.6,0.65,0.7,0.75,0.8,0.85,0.9,0.95],"v":[0.05,0.08,0.12,0.17,0.23,0.32,0.43,0.54,0.68,0.85,1.04,1.37,1.73,1.99,2.14,2.3,2.7,3.2,3.3,3.3,3.3,3.2,2.7,2.3,2.14,1.99,1.73,1.37,1.04,0.85,0.68,0.54,0.43,0.32,0.23,0.17,0.12,0.08,0.05]},
{"y":-1.05,"x":[-0.9,-0.85,-0.8,-0.75,-0.7,-0.65,-0.6,-0.55,-0.5,-0.45,-0.4,-0.35,-0.3,-0.25,-0.2,-0.15,-0.1,-0.05,0,0.05,0.1,0.15,0.2,0.25,0.3,0.35,0.4,0.45,0.5,0.55,0.6,0.65,0.7,0.75,0.8,0.85,0.9],"v":[0.05,0.08,0.12,0.17,0.23,0.3,0.4,0.49,0.62,0.74,0.88,1.04,1.28,1.56,1.78,1.95,2.03,2.07,2.08,2.07,2.03,1.95,1.78,1.56,1.28,1.04,0.88,0.74,0.62,0.49,0.4,0.3,0.23,0.17,0.12,0.08,0.05]},
{"y":-1.1,"x":[-0.85,-0.8,-0.75,-0.7,-0.65,-0.6,-0.55,-0.5,-0.45,-0.4,-0.35,-0.3,-0.25,-0.2,-0.15,-0.1,-0.05,0,0.05,0.1,0.15,0.2,0.25,0.3,0.35,0.4,0.45,0.5,0.55,0.6,0.65,0.7,0.75,0.8,0.85],"v":[0.05,0.08,0.11,0.16,0.21,0.28,0.35,0.44,0.52,0.63,0.73,0.83,0.95,1.05,1.13,1.23,1.3,1.33,1.3,1.23,1.13,1.05,0.95,0.83,0.73,0.63,0.52,0.44,0.35,0.28,0.21,0.16,0.11,0.08,0.05]},
{"y":-1.15,"x":[-0.8,-0.75,-0.7,-0.65,-0.6,-0.55,-0.5,-0.45,-0.4,-0.35,-0.3,-0.25,-0.2,-0.15,-0.1,-0.05,0,0.05,0.1,0.15,0.2,0.25,0.3,0.35,0.4,0.45,0.5,0.55,0.6,0.65,0.7,0.75,0.8],"v":[0.05,0.07,0.1,0.14,0.18,0.24,0.3,0.37,0.44,0.5,0.59,0.66,0.72,0.77,0.81,0.84,0.85,0.84,0.81,0.77,0.72,0.66,0.59,0.5,0.44,0.37,0.3,0.24,0.18,0.14,0.1,0.07,0.05]},
{"y":-1.2,"x":[-0.75,-0.7,-0.65,-0.6,-0.55,-0.5,-0.45,-0.4,-0.35,-0.3,-0.25,-0.2,-0.15,-0.1,-0.05,0,0.05,0.1,0.15,0.2,0.25,0.3,0.35,0.4,0.45,0.5,0.55,0.6,0.65,0.7,0.75],"v":[0.04,0.06,0.09,0.12,0.16,0.2,0.24,0.29,0.34,0.4,0.45,0.49,0.53,0.55,0.57,0.58,0.57,0.55,0.53,0.49,0.45,0.4,0.34,0.29,0.24,0.2,0.16,0.12,0.09,0.06,0.04]},
{"y":-1.25,"x":[-0.65,-0.6,-0.55,-0.5,-0.45,-0.4,-0.35,-0.3,-0.25,-0.2,-0.15,-0.1,-0.05,0,0.05,0.1,0.15,0.2,0.25,0.3,0.35,0.4,0.45,0.5,0.55,0.6,0.65],"v":[0.05,0.07,0.1,0.12,0.16,0.19,0.22,0.26,0.29,0.32,0.34,0.37,0.38,0.39,0.38,0.37,0.34,0.32,0.29,0.26,0.22,0.19,0.16,0.12,0.1,0.07,0.05]},
{"y":-1.3,"x":[-0.6,-0.55,-0.5,-0.45,-0.4,-0.35,-0.3,-0.25,-0.2,-0.15,-0.1,-0.05,0,0.05,0.1,0.15,0.2,0.25,0.3,0.35,0.4,0.45,0.5,0.55,0.6],"v":[0.04,0.05,0.07,0.09,0.11,0.14,0.17,0.19,0.2,0.22,0.23,0.24,0.24,0.24,0.23,0.22,0.2,0.19,0.17,0.14,0.11,0.09,0.07,0.05,0.04]},
{"y":-1.35,"x":[-0.5,-0.45,-0.4,-0.35,-0.3,-0.25,-0.2,-0.15,-0.1,-0.05,0,0.05,0.1,0.15,0.2,0.25,0.3,0.35,0.4,0.45,0.5],"v":[0.04,0.05,0.06,0.08,0.09,0.11,0.12,0.13,0.14,0.15,0.15,0.15,0.14,0.13,0.12,0.11,0.09,0.08,0.06,0.05,0.04]},
{"y":-1.4,"x":[-0.4,-0.35,-0.3,-0.25,-0.2,-0.15,-0.1,-0.05,0,0.05,0.1,0.15,0.2,0.25,0.3,0.35,0.4],"v":[0.04,0.05,0.05,0.06,0.06,0.07,0.08,0.08,0.08,0.08,0.08,0.07,0.06,0.06,0.05,0.05,0.04]}
],
"ell":[
{"i":0,"ex":0.9,"ey":0},{"i":5,"ex":0.8966,"ey":0.0881},{"i":10,"ex":0.8863,"ey":0.1753},{"i":15,"ex":0.8693,"ey":0.2614},{"i":20,"ex":0.8457,"ey":0.3454},{"i":25,"ex":0.8157,"ey":0.4268},{"i":30,"ex":0.7794,"ey":0.505},{"i":35,"ex":0.7373,"ey":0.5793},{"i":40,"ex":0.6894,"ey":0.6492},{"i":45,"ex":0.6364,"ey":0.7142},{"i":50,"ex":0.5785,"ey":0.7737},{"i":55,"ex":0.5162,"ey":0.8274},{"i":60,"ex":0.45,"ey":0.8747},{"i":65,"ex":0.3803,"ey":0.9154},{"i":70,"ex":0.3078,"ey":0.9491},{"i":75,"ex":0.2329,"ey":0.9756},{"i":80,"ex":0.1562,"ey":0.9946},{"i":85,"ex":0.0785,"ey":1.0062},{"i":90,"ex":0,"ey":1.01},
{"i":95,"ex":-0.0785,"ey":1.0062},{"i":100,"ex":-0.1562,"ey":0.9946},{"i":105,"ex":-0.2329,"ey":0.9756},{"i":110,"ex":-0.3078,"ey":0.9491},{"i":115,"ex":-0.3803,"ey":0.9154},{"i":120,"ex":-0.45,"ey":0.8747},{"i":125,"ex":-0.5162,"ey":0.8274},{"i":130,"ex":-0.5785,"ey":0.7737},{"i":135,"ex":-0.6364,"ey":0.7142},{"i":140,"ex":-0.6894,"ey":0.6492},{"i":145,"ex":-0.7373,"ey":0.5793},{"i":150,"ex":-0.7794,"ey":0.505},{"i":155,"ex":-0.8157,"ey":0.4268},{"i":160,"ex":-0.8457,"ey":0.3454},{"i":165,"ex":-0.8693,"ey":0.2614},{"i":170,"ex":-0.8863,"ey":0.1753},{"i":175,"ex":-0.8966,"ey":0.0881},{"i":180,"ex":-0.9,"ey":0},
{"i":185,"ex":-0.8966,"ey":-0.0881},{"i":190,"ex":-0.8863,"ey":-0.1753},{"i":195,"ex":-0.8693,"ey":-0.2614},{"i":200,"ex":-0.8457,"ey":-0.3454},{"i":205,"ex":-0.8157,"ey":-0.4268},{"i":210,"ex":-0.7794,"ey":-0.505},{"i":215,"ex":-0.7373,"ey":-0.5793},{"i":220,"ex":-0.6894,"ey":-0.6492},{"i":225,"ex":-0.6364,"ey":-0.7142},{"i":230,"ex":-0.5785,"ey":-0.7737},{"i":235,"ex":-0.5162,"ey":-0.8274},{"i":240,"ex":-0.45,"ey":-0.8747},{"i":245,"ex":-0.3803,"ey":-0.9154},{"i":250,"ex":-0.3078,"ey":-0.9491},{"i":255,"ex":-0.2329,"ey":-0.9756},{"i":260,"ex":-0.1562,"ey":-0.9946},{"i":265,"ex":-0.0785,"ey":-1.0062},{"i":270,"ex":0,"ey":-1.01},
{"i":275,"ex":0.0785,"ey":-1.0062},{"i":280,"ex":0.1562,"ey":-0.9946},{"i":285,"ex":0.2329,"ey":-0.9756},{"i":290,"ex":0.3078,"ey":-0.9491},{"i":295,"ex":0.3803,"ey":-0.9154},{"i":300,"ex":0.45,"ey":-0.8747},{"i":305,"ex":0.5162,"ey":-0.8274},{"i":310,"ex":0.5785,"ey":-0.7737},{"i":315,"ex":0.6364,"ey":-0.7142},{"i":320,"ex":0.6894,"ey":-0.6492},{"i":325,"ex":0.7373,"ey":-0.5793},{"i":330,"ex":0.7794,"ey":-0.505},{"i":335,"ex":0.8157,"ey":-0.4268},{"i":340,"ex":0.8457,"ey":-0.3454},{"i":345,"ex":0.8693,"ey":-0.2614},{"i":350,"ex":0.8863,"ey":-0.1753},{"i":355,"ex":0.8966,"ey":-0.0881},{"i":360,"ex":0.9,"ey":0}
]
},
"layer":[
{"data":{"name":"heat"},
"transform":[{"flatten":["x","v"]}],
"mark":{"type":"square","size":205,"opacity":1},
"encoding":{
"x":{"field":"x","type":"quantitative","scale":{"domain":[-1.5,1.5],"nice":false,"zero":false},
"axis":{"orient":"bottom","values":[-1.5,-1,-0.5,0,0.5,1,1.5],"title":"x","labelPadding":21,"titlePadding":11,
"labelExpr":"datum.value < 0 ? '-' + format(-datum.value, '~g') : format(datum.value, '~g')"}},
"y":{"field":"y","type":"quantitative","scale":{"domain":[-1.5,1.5],"nice":false,"zero":false},
"axis":{"orient":"left","values":[-1.5,-1,-0.5,0,0.5,1,1.5],"title":"y","labelPadding":18,"titlePadding":16,
"labelExpr":"datum.value < 0 ? '-' + format(-datum.value, '~g') : format(datum.value, '~g')"}},
"color":{"field":"v","type":"quantitative",
"scale":{"domain":[-4.15,-3.1125,-1.0375,1.0375,3.1125,4.15],"range":["#000080","#0000ff","#00ffff","#ffff00","#ff0000","#800000"],"interpolate":"rgb"},
"legend":{"orient":"none","legendX":867,"legendY":0,"direction":"vertical","gradientLength":830,"gradientThickness":33,"title":null,"padding":0,
"values":[-4,-3,-2,-1,0,1,2,3,4],"labelFont":"Liberation Serif","labelFontSize":25,"labelColor":"#262626","labelOffset":10,"labelOverlap":false,
"gradientStrokeColor":"#262626","gradientStrokeWidth":1,
"labelExpr":"datum.value < 0 ? '-' + format(-datum.value, '~g') : format(datum.value, '~g')"}}
}},
{"data":{"name":"ell"},
"mark":{"type":"line","stroke":"#000000","strokeWidth":6,"strokeJoin":"round"},
"encoding":{
"x":{"field":"ex","type":"quantitative","scale":{"domain":[-1.5,1.5],"nice":false,"zero":false},
"axis":{"orient":"top","values":[-1.5,-1,-0.5,0,0.5,1,1.5],"labels":false,"title":null}},
"y":{"field":"ey","type":"quantitative","scale":{"domain":[-1.5,1.5],"nice":false,"zero":false},
"axis":{"orient":"right","values":[-1.5,-1,-0.5,0,0.5,1,1.5],"labels":false,"title":null}},
"order":{"field":"i","type":"quantitative"}
}}
],
"resolve":{"axis":{"x":"independent","y":"independent"}},
"config":{
"title":{"font":"Liberation Serif, DejaVu Serif, serif"},
"view":{"fill":"#80ff80","stroke":"#262626","strokeWidth":2.5},
"axis":{"domain":false,"grid":false,"labelFont":"Liberation Serif","labelFontSize":31,"labelColor":"#262626","titleFont":"Liberation Serif","titleFontSize":36,"titleFontWeight":"normal","titleColor":"#262626","tickColor":"#262626","tickSize":-8,"tickWidth":1,"labelFlush":false,"labelOverlap":false}
}
}
